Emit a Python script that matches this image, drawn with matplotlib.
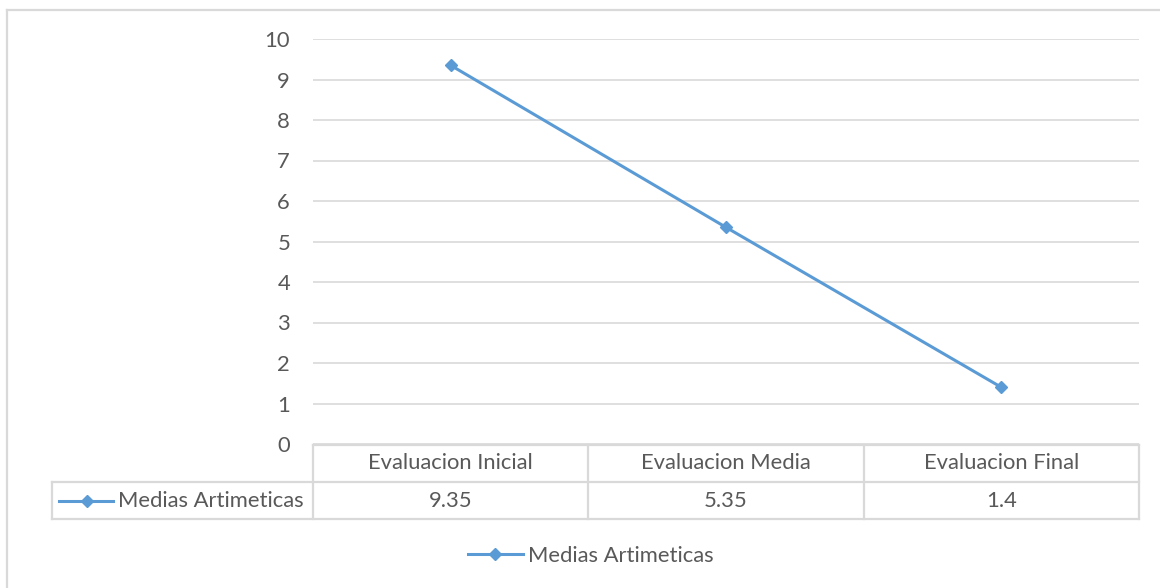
import numpy as np
import matplotlib.pyplot as plt
from matplotlib.lines import Line2D

categories = ["Evaluacion Inicial", "Evaluacion Media", "Evaluacion Final"]
values = [9.35, 5.35, 1.4]
value_labels = ["9.35", "5.35", "1.4"]
series_name = "Medias Artimeticas"

W, H = 1160, 588
blue = "#5B9BD5"
grid = "#D9D9D9"
txt = "#595959"
fs = 15.8
plt.rcParams['font.family'] = ['Lato', 'DejaVu Sans']

fig = plt.figure(figsize=(W / 100, H / 100), dpi=100)

def fx(px):
    return px / W

def fy(py):
    return 1 - py / H

def seg(xs, ys, **kw):
    fig.add_artist(Line2D([fx(v) for v in xs], [fy(v) for v in ys],
                          transform=fig.transFigure, **kw))

# chart border (only top and left are visible in the crop)
seg((7, 1160), (10, 10), color=grid, linewidth=1.6)
seg((7, 7), (10, 588), color=grid, linewidth=1.6)

left, right, top, bottom = 313, 1139, 39, 444
ax = fig.add_axes([fx(left), fy(bottom), fx(right - left), fy(top) - fy(bottom)])
x = np.arange(len(categories))
ax.plot(x, values, color=blue, linewidth=2.2, marker="D", markersize=6.5,
        label=series_name)
ax.set_xlim(-0.5, len(categories) - 0.5)
ax.set_ylim(0, 10)
ax.set_yticks(range(0, 11))
ax.set_xticks([])
ax.grid(axis="y", color=grid, linewidth=1.2)
ax.set_axisbelow(True)
for s in ax.spines.values():
    s.set_visible(False)
ax.tick_params(axis="y", length=0, pad=16.5, labelsize=fs, labelcolor=txt)

# data table below the axis
row1, row2, row3 = 445, 482, 519
col_edges = [left + (right - left) * i / len(categories) for i in range(len(categories) + 1)]
seg((left, right), (row1, row1), color=grid, linewidth=1.6)
seg((52, right), (row2, row2), color=grid, linewidth=1.6)
seg((52, right), (row3, row3), color=grid, linewidth=1.6)
seg((52, 52), (row2, row3), color=grid, linewidth=1.6)
for c in col_edges:
    seg((c, c), (row1, row3), color=grid, linewidth=1.6)

for i, cat in enumerate(categories):
    cx = (col_edges[i] + col_edges[i + 1]) / 2
    fig.text(fx(cx), fy(463), cat, ha="center", va="center",
             fontsize=fs, color=txt)
    fig.text(fx(cx), fy(501), value_labels[i], ha="center",
             va="center", fontsize=fs, color=txt)

# legend key in table row
seg((59, 113), (501, 501), color=blue, linewidth=2.2)
seg((87,), (501,), color=blue, marker="D", markersize=6.5, linestyle="none")
fig.text(fx(118), fy(501), series_name, ha="left", va="center",
         fontsize=fs, color=txt)

# bottom legend
fig.legend(handles=ax.get_lines(), loc="center", bbox_to_anchor=(fx(591), fy(556)),
           frameon=False, fontsize=fs, labelcolor=txt, handlelength=2.5,
           handletextpad=0.25)

fig.savefig("out.png", dpi=100)
